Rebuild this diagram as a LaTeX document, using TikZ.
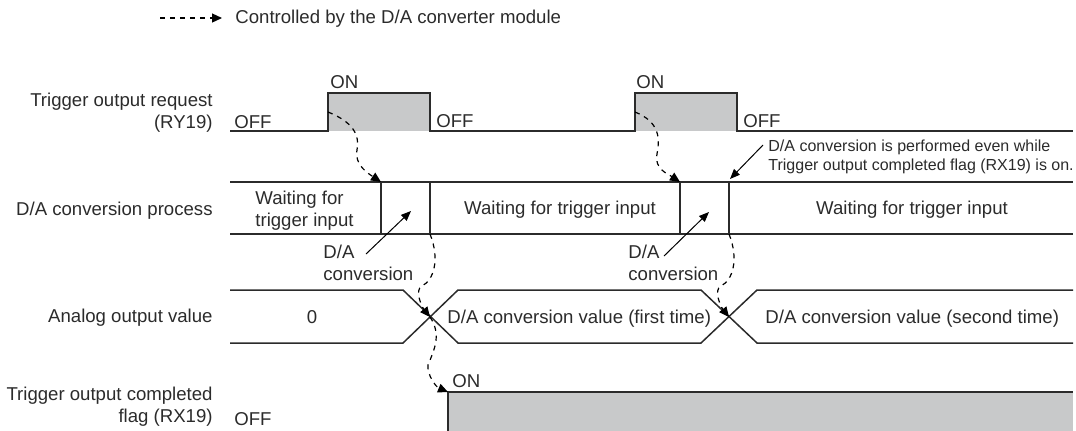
\documentclass[tikz,border=0pt]{standalone}
\usepackage{fontspec}
\setmainfont{Liberation Sans}
\usetikzlibrary{arrows.meta, positioning}
\usetikzlibrary{calc}
\definecolor{SignalGray}{HTML}{C8C9CA}
\definecolor{InkGray}{HTML}{2B2B2B}

\begin{document}
\begin{tikzpicture}[
        x=0.5pt, y=-0.5pt,
        every node/.style={inner sep=0pt, text=InkGray, font=\fontsize{9.3}{10.7}\selectfont},
        lbl/.style={anchor=base east, align=right},
        txt/.style={anchor=base west, align=left},
        small/.style={font=\fontsize{8}{9.5}\selectfont},
        wave/.style={draw=InkGray, line width=0.75pt},
        ctrl/.style={draw=black, line width=0.6pt, dash pattern=on 2.5pt off 2.5pt, -{Triangle[length=5pt, width=4.5pt]}},
        pointer/.style={draw=black, line width=0.5pt, -{Triangle[length=5pt, width=4pt]}}
    ]
    \useasboundingbox (0,0) rectangle (1076,430);

    \coordinate (lgs) at (160,18);
    \coordinate (lge) at (222,18);
    \node[txt] (lgtxt) at (235,23) {Controlled by the D/A converter module};
    \draw[ctrl] (lgs) -- (lge);

    \node[lbl] (lreq) at (213,128) {Trigger output request\\(RY19)};
    \node[lbl] (lproc) at (213,215) {D/A conversion process};
    \node[lbl] (lana) at (213,322) {Analog output value};
    \node[lbl] (lflag) at (213,422) {Trigger output completed\\flag (RX19)};

    \fill[SignalGray] (328,93) rectangle (430,131);
    \fill[SignalGray] (635,93) rectangle (737,131);
    \draw[wave] (230,131) -- (328,131) -- (328,93) -- (430,93) -- (430,131) -- (635,131) -- (635,93) -- (737,93) -- (737,131) -- (1073,131);
    \node[txt] (off1) at (234,128) {OFF};
    \node[txt] (on1) at (330,88) {ON};
    \node[txt] (off2) at (436,127) {OFF};
    \node[txt] (on2) at (636,88) {ON};
    \node[txt] (off3) at (743,127) {OFF};

    \draw[wave] (230,182) -- (1073,182);
    \draw[wave] (230,234) -- (1073,234);
    \draw[wave] (381,182) -- (381,234) (430,182) -- (430,234) (680,182) -- (680,234) (729,182) -- (729,234);
    \node[txt] (wait1) at (255,226) {Waiting for\\trigger input};
    \node[anchor=base] (wait2) at (560,214) {Waiting for trigger input};
    \node[anchor=base] (wait3) at (912,214) {Waiting for trigger input};

    \node[txt] (conv1) at (323,280) {D/A\\conversion};
    \node[txt] (conv2) at (628,280) {D/A\\conversion};
    \coordinate (cs1) at (366,254);
    \coordinate (cv1) at (411,211);
    \coordinate (cs2) at (664,256);
    \coordinate (cv2) at (709,212);
    \draw[pointer] (cs1) -- (cv1);
    \draw[pointer] (cs2) -- (cv2);

    \node[txt, small] (note) at (768,170) {D/A conversion is performed even while\\Trigger output completed flag (RX19) is on.};
    \coordinate (ns) at (763,145);
    \coordinate (nt) at (730,179);
    \draw[pointer] (ns) -- (nt);

    \draw[wave] (230,290) -- (403,290) -- (458,343) -- (701,343) -- (757,290) -- (1073,290);
    \draw[wave] (230,343) -- (403,343) -- (458,290) -- (701,290) -- (757,343) -- (1073,343);
    \node[anchor=base] (zero) at (312,323) {0};
    \node[txt] (val1) at (447,323) {D/A conversion value (first time)};
    \node[txt] (val2) at (765,323) {D/A conversion value (second time)};

    \fill[SignalGray] (448,392) rectangle (1073,432);
    \draw[wave] (448,432) -- (448,392) -- (1073,392);
    \node[txt] (off4) at (234,425) {OFF};
    \node[txt] (on3) at (452,387) {ON};

    \coordinate (rq1) at (328,112);
    \coordinate (rq2) at (635,112);
    \coordinate (pr1) at (381,182);
    \coordinate (pr2) at (680,182);
    \coordinate (pe1) at (430,234);
    \coordinate (pe2) at (729,234);
    \coordinate (ac1) at (430,317);
    \coordinate (ac2) at (729,317);
    \coordinate (fl1) at (448,392);

    \draw[ctrl] (rq1) .. controls +(25,10) and +(3,-15) .. ++(29,38) .. controls +(-3,15) and +(-12,-8) .. (pr1);
    \draw[ctrl] (rq2) .. controls +(25,10) and +(3,-15) .. ++(22,42) .. controls +(-3,15) and +(-12,-8) .. (pr2);
    \draw[ctrl] (pe1) .. controls +(10,25) and +(12,-6) .. ++(-8,52) .. controls +(-8,4) and +(-8,-10) .. (ac1);
    \draw[ctrl] (pe2) .. controls +(10,25) and +(12,-6) .. ++(-8,52) .. controls +(-8,4) and +(-8,-10) .. (ac2);
    \draw[ctrl] (ac1) .. controls +(12,18) and +(6,-15) .. ++(-2,48) .. controls +(-1,10) and +(-12,-5) .. (fl1);
\end{tikzpicture}
\end{document}
